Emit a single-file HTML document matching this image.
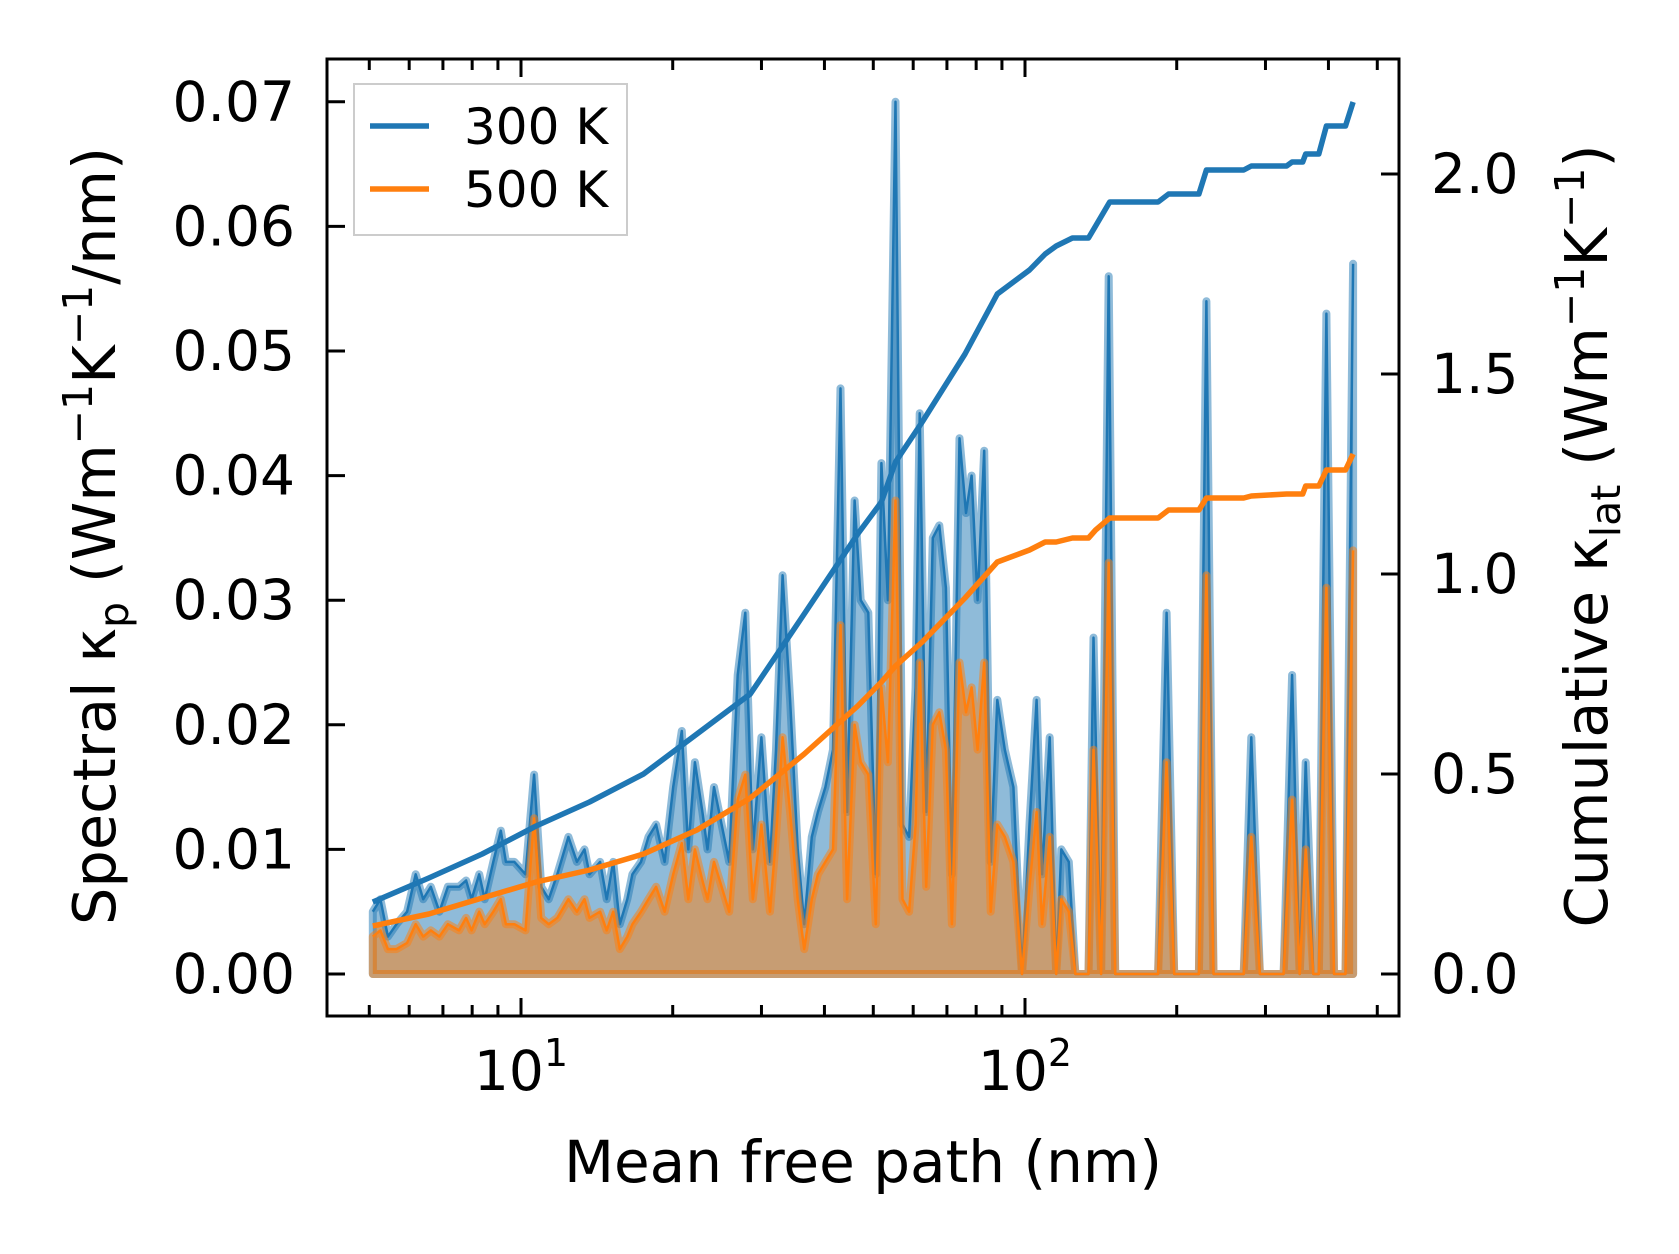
<!DOCTYPE html>
<html><head><meta charset="utf-8"><style>
html,body{margin:0;padding:0;background:#fff;}
svg{display:block;font-family:"DejaVu Sans","Liberation Sans",sans-serif;}
</style></head><body>
<svg id="chart" width="1679" height="1254" viewBox="0 0 1679 1254" xmlns="http://www.w3.org/2000/svg">
<g id="plot"></g>
</svg>
<script>
const logMfp = [0.706,0.721,0.736,0.753,0.774,0.791,0.806,0.821,0.838,0.855,
0.877,0.891,0.902,0.917,0.928,0.945,0.960,0.970,0.987,1.009,
1.026,1.040,1.055,1.072,1.094,1.111,1.126,1.136,1.157,1.170,
1.183,1.196,1.211,1.221,1.238,1.253,1.268,1.285,1.302,1.319,
1.332,1.345,1.360,1.370,1.383,1.398,1.413,1.430,1.445,1.460,
1.477,1.494,1.506,1.519,1.534,1.549,1.562,1.577,1.589,1.604,
1.619,1.634,1.647,1.662,1.674,1.689,1.704,1.715,1.728,1.743,
1.757,1.770,1.783,1.791,1.804,1.817,1.830,1.843,1.855,1.870,
1.883,1.894,1.906,1.919,1.932,1.945,1.960,1.977,1.994,2.009,
2.023,2.034,2.049,2.062,2.072,2.087,2.100,2.115,2.126,2.136,
2.151,2.166,2.179,2.264,2.281,2.296,2.345,2.360,2.374,2.434,
2.449,2.466,2.513,2.530,2.545,2.557,2.572,2.583,2.598,2.613,
2.636,2.651];
const spec300 = [0.005,0.006,0.003,0.004,0.005,0.008,0.006,0.007,0.005,0.007,
0.007,0.0075,0.006,0.008,0.006,0.009,0.0115,0.009,0.009,0.008,
0.016,0.007,0.006,0.008,0.011,0.009,0.010,0.008,0.009,0.006,
0.009,0.004,0.006,0.008,0.009,0.011,0.012,0.009,0.015,0.0195,
0.010,0.017,0.013,0.010,0.015,0.012,0.009,0.024,0.029,0.010,
0.019,0.009,0.018,0.032,0.022,0.010,0.004,0.011,0.013,0.015,
0.018,0.047,0.013,0.038,0.030,0.029,0.008,0.041,0.030,0.070,
0.012,0.011,0.023,0.045,0.013,0.035,0.036,0.031,0.008,0.043,
0.037,0.040,0.030,0.042,0.009,0.022,0.018,0.015,0,0.012,
0.022,0.008,0.019,0,0.010,0.009,0,0,0,0.027,
0,0.056,0,0,0.029,0,0,0.054,0,0,
0.019,0,0,0.024,0,0.017,0,0,0.053,0,
0,0.057];
const spec500 = [0.003,0.0035,0.002,0.002,0.0025,0.004,0.003,0.0035,0.003,0.004,
0.0035,0.0045,0.0035,0.005,0.004,0.005,0.006,0.004,0.004,0.0035,
0.0125,0.0045,0.004,0.0045,0.006,0.005,0.006,0.0045,0.005,0.0035,
0.005,0.002,0.003,0.004,0.005,0.006,0.007,0.005,0.008,0.0105,
0.006,0.010,0.0075,0.006,0.009,0.007,0.005,0.014,0.016,0.006,
0.012,0.005,0.011,0.019,0.013,0.006,0.002,0.006,0.008,0.009,
0.010,0.028,0.006,0.020,0.017,0.016,0.004,0.023,0.017,0.038,
0.006,0.005,0.012,0.025,0.007,0.020,0.021,0.018,0.004,0.025,
0.021,0.023,0.018,0.025,0.005,0.012,0.011,0.009,0,0.007,
0.013,0.004,0.011,0,0.006,0.005,0,0,0,0.018,
0,0.033,0,0,0.017,0,0,0.032,0,0,
0.011,0,0,0.014,0,0.010,0,0,0.031,0,
0,0.034];
const cumLog = [0.706,0.817,0.923,1.030,1.136,1.243,1.349,1.455,1.562,1.668,1.715,1.743,1.796,1.881,1.945,
2.009,2.040,2.062,2.094,2.126,2.140,2.168,2.264,2.285,2.345,2.360,2.434,2.449,2.519,2.530,2.551,2.557,2.583,2.598,2.636,2.651];
const cum300 = [0.18,0.24,0.30,0.37,0.43,0.50,0.60,0.70,0.90,1.10,1.18,1.28,1.38,1.55,1.70,
1.76,1.80,1.82,1.84,1.84,1.87,1.93,1.93,1.95,1.95,2.01,2.01,2.02,2.02,2.03,2.03,2.05,2.05,2.12,2.12,2.18];
const cum500 = [0.12,0.15,0.19,0.23,0.26,0.30,0.36,0.44,0.55,0.67,0.73,0.77,0.83,0.94,1.03,
1.06,1.08,1.08,1.09,1.09,1.11,1.14,1.14,1.16,1.16,1.19,1.19,1.195,1.20,1.20,1.20,1.22,1.22,1.26,1.26,1.30];
const leftTicks = ["0.00","0.01","0.02","0.03","0.04","0.05","0.06","0.07"];
const rightTicks = ["0.0","0.5","1.0","1.5","2.0"];

const L=327,R=1399,T=59,B=1016;
const xs = lg => 521 + (lg-1)*504;
const yl = v => 974 - v*12460;
const yr = v => 974 - v*400;
const NS="http://www.w3.org/2000/svg";
const g=document.getElementById('plot');
function mk(tag,attrs,parent){const e=document.createElementNS(NS,tag);for(const k in attrs)e.setAttribute(k,attrs[k]);(parent||g).appendChild(e);return e;}

function specLayer(vals,color,name){
  let d='M'+xs(logMfp[0])+','+yl(0);
  let ld='';
  logMfp.forEach((lg,i)=>{d+=' L'+xs(lg).toFixed(1)+','+yl(vals[i]).toFixed(1);ld+=(i?' L':'M')+xs(lg).toFixed(1)+','+yl(vals[i]).toFixed(1);});
  d+=' L'+xs(logMfp[logMfp.length-1])+','+yl(0)+' Z';
  const f=mk('path',{d:d,fill:color,'fill-opacity':0.5,stroke:color,'stroke-opacity':0.5,'stroke-width':8,'stroke-linejoin':'round'});
  
  
  const l=mk('path',{d:ld,fill:'none',stroke:color,'stroke-width':2.5,'stroke-linejoin':'round'});
  
  
}
specLayer(spec300,'#1f77b4','spectral-300k');
specLayer(spec500,'#ff7f0e','spectral-500k');

function cumLine(vals,color,name){
  let d='';cumLog.forEach((lg,i)=>{d+=(i?' L':'M')+xs(lg).toFixed(1)+','+yr(vals[i]).toFixed(1);});
  const p=mk('path',{d:d,fill:'none',stroke:color,'stroke-width':5.5,'stroke-linejoin':'round'});
  
  
}
cumLine(cum300,'#1f77b4','cumulative-300k');
cumLine(cum500,'#ff7f0e','cumulative-500k');

const tk=mk('g',{stroke:'#000','stroke-width':3});


[1,2].forEach(dec=>{const x=xs(dec);mk('line',{x1:x,x2:x,y1:B,y2:B-18},tk);mk('line',{x1:x,x2:x,y1:T,y2:T+18},tk);});
[0,1,2].forEach(dec=>{for(let m=2;m<=9;m++){const lg=dec+Math.log10(m);if(lg<0.615||lg>2.742)continue;const x=xs(lg);mk('line',{x1:x,x2:x,y1:B,y2:B-11},tk);mk('line',{x1:x,x2:x,y1:T,y2:T+11},tk);}});
leftTicks.forEach(t=>{const y=yl(parseFloat(t));mk('line',{x1:L,x2:L+18,y1:y,y2:y},tk);
  const e=mk('text',{x:295,y:y+19,'text-anchor':'end','font-size':55,fill:'#000'});e.textContent=t;
  
  });
rightTicks.forEach(t=>{const y=yr(parseFloat(t));mk('line',{x1:R,x2:R-18,y1:y,y2:y},tk);
  const e=mk('text',{x:1431,y:y+19,'font-size':55,fill:'#000'});e.textContent=t;
  
  });
[1,2].forEach(dec=>{const e=mk('text',{x:xs(dec),y:1090,'text-anchor':'middle','font-size':55,fill:'#000'});
  e.innerHTML='10<tspan font-size="38" dy="-24">'+dec+'</tspan>';
  
  });

const fr=mk('rect',{x:L,y:T,width:R-L,height:B-T,fill:'none',stroke:'#000','stroke-width':3});


</script>
<svg style="position:absolute;left:0;top:0" width="1679" height="1254" xmlns="http://www.w3.org/2000/svg" font-family="DejaVu Sans, Liberation Sans, sans-serif">
<text x="863" y="1182" text-anchor="middle" font-size="58">Mean free path (nm)</text>
<text transform="translate(115,536) rotate(-90)" text-anchor="middle" font-size="59">Spectral κ<tspan font-size="41" dy="13">p</tspan><tspan dy="-13"> (Wm</tspan><tspan font-size="41" dy="-23">−1</tspan><tspan dy="23">K</tspan><tspan font-size="41" dy="-23">−1</tspan><tspan dy="23">/nm)</tspan></text>
<text transform="translate(1607,536) rotate(-90)" text-anchor="middle" font-size="59">Cumulative κ<tspan font-size="41" dy="13">lat</tspan><tspan dy="-13"> (Wm</tspan><tspan font-size="41" dy="-23">−1</tspan><tspan dy="23">K</tspan><tspan font-size="41" dy="-23">−1</tspan><tspan dy="23">)</tspan></text>
<g>
<rect x="354" y="84" width="273" height="151" fill="#fff" fill-opacity="0.8" stroke="#ccc" stroke-width="2"/>
<line x1="370" x2="429" y1="126" y2="126" stroke="#1f77b4" stroke-width="5.5"/>
<text x="464" y="144" font-size="50">300 K</text>
<line x1="370" x2="429" y1="189" y2="189" stroke="#ff7f0e" stroke-width="5.5"/>
<text x="464" y="207" font-size="50">500 K</text>
</g>
</svg>
</body></html>
